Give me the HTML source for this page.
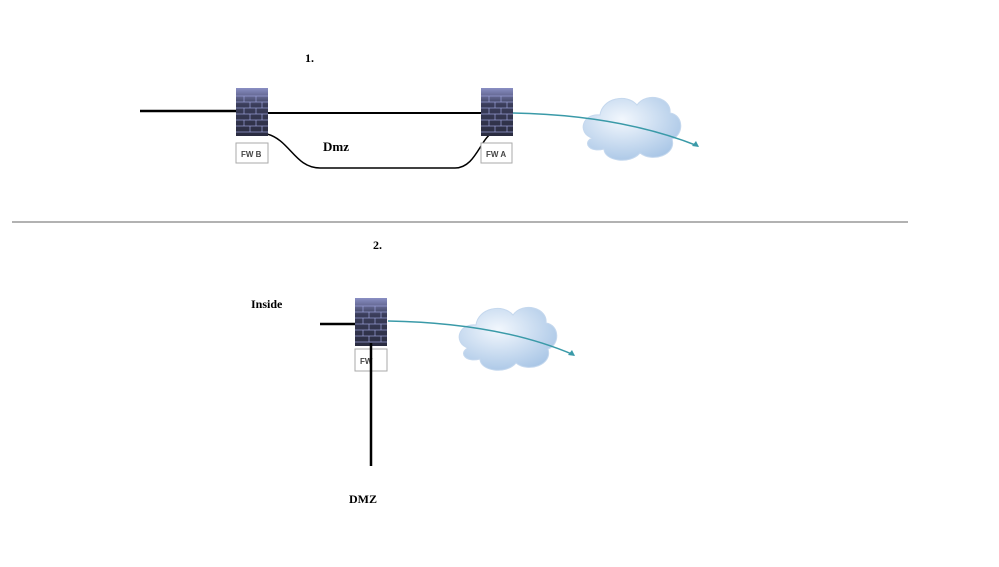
<!DOCTYPE html>
<html><head><style>body{margin:0;background:#fff}svg{display:block}</style></head><body>
<svg width="999" height="567" xmlns="http://www.w3.org/2000/svg" font-family="Liberation Serif, serif">
<defs>
<linearGradient id="fw" x1="0" y1="0" x2="0" y2="1"><stop offset="0" stop-color="#8a8fc4"/><stop offset="0.35" stop-color="#3a3d5a"/><stop offset="1" stop-color="#2a2c40"/></linearGradient>
<radialGradient id="cl" cx="0.4" cy="0.35" r="0.7"><stop offset="0" stop-color="#f2f7fd"/><stop offset="1" stop-color="#a9c6e6"/></radialGradient>
<g id="fwi">
<rect x="0" y="0" width="32" height="48" fill="url(#fw)"/>
<path d="M0 8H32M0 14H32M0 20H32M0 26H32M0 32H32M0 38H32M0 44H32" stroke="#9aa0d8" stroke-width="1" opacity="0.7"/>
<path d="M8 8V14M20 8V14M14 14V20M26 14V20M8 20V26M20 20V26M14 26V32M26 26V32M8 32V38M20 32V38M14 38V44M26 38V44" stroke="#9aa0d8" stroke-width="1" opacity="0.7"/>
</g>
<g id="cloud">
<path d="M10 45 C-5 40 0 20 18 22 C20 5 45 0 55 12 C65 -2 90 5 88 20 C102 22 102 42 90 46 C95 62 70 70 58 60 C48 72 22 68 22 56 C8 60 0 50 10 45Z" fill="url(#cl)" stroke="#c5d8ee" stroke-width="1"/>
</g>
</defs>
<text x="305" y="62" font-size="12" font-weight="bold">1.</text>
<line x1="140" y1="111" x2="236" y2="111" stroke="#000" stroke-width="2.5"/>
<line x1="268" y1="113" x2="481" y2="113" stroke="#000" stroke-width="2"/>
<path d="M267 134 C290 140 295 168 320 168 L455 168 C475 168 480 140 492 133" fill="none" stroke="#000" stroke-width="1.5"/>
<use href="#fwi" x="236" y="88"/>
<use href="#fwi" x="481" y="88"/>
<rect x="236" y="143" width="32" height="20" fill="#fff" stroke="#aaa"/>
<text x="241" y="157" font-family="Liberation Sans, sans-serif" font-size="8" font-weight="bold" fill="#444">FW B</text>
<rect x="481" y="143" width="31" height="20" fill="#fff" stroke="#aaa"/>
<text x="486" y="157" font-family="Liberation Sans, sans-serif" font-size="8" font-weight="bold" fill="#444">FW A</text>
<text x="323" y="151" font-size="13" font-weight="bold">Dmz</text>
<use href="#cloud" x="582" y="93"/>
<path d="M513 113 Q620 115 698 146" fill="none" stroke="#3a9aa8" stroke-width="1.5"/>
<path d="M699 147 l-7 -1 l4 -5z" fill="#3a9aa8"/>
<line x1="12" y1="222" x2="908" y2="222" stroke="#999" stroke-width="1.5"/>
<text x="373" y="249" font-size="12" font-weight="bold">2.</text>
<text x="251" y="308" font-size="12" font-weight="bold">Inside</text>
<line x1="320" y1="324" x2="356" y2="324" stroke="#000" stroke-width="2.5"/>
<use href="#fwi" x="355" y="298"/>
<rect x="355" y="349" width="32" height="22" fill="#fff" stroke="#aaa"/>
<text x="360" y="364" font-family="Liberation Sans, sans-serif" font-size="8" font-weight="bold" fill="#444">FW</text>
<line x1="371" y1="343" x2="371" y2="466" stroke="#000" stroke-width="2.5"/>
<use href="#cloud" x="458" y="303"/>
<path d="M388 321 Q500 323 574 355" fill="none" stroke="#3a9aa8" stroke-width="1.5"/>
<path d="M575 356 l-7 -1 l4 -5z" fill="#3a9aa8"/>
<text x="349" y="503" font-size="12" font-weight="bold">DMZ</text>
</svg>
</body></html>
